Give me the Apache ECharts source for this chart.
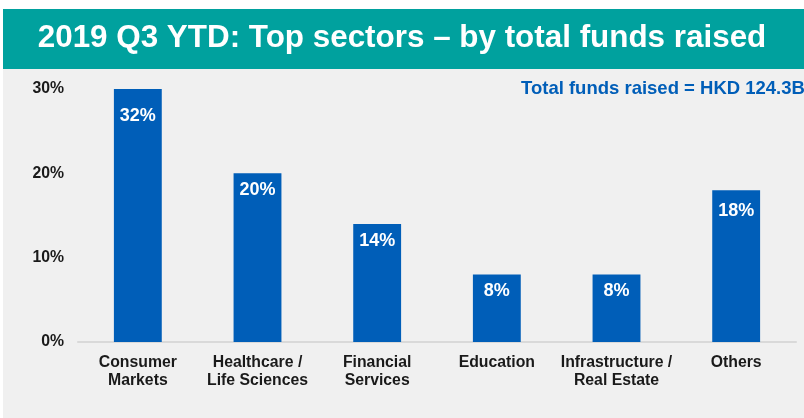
<!DOCTYPE html>
<html>
<head>
<meta charset="utf-8">
<title>2019 Q3 YTD: Top sectors – by total funds raised</title>
<script src="https://cdn.jsdelivr.net/npm/echarts@6/dist/echarts.min.js"></script>
<style>
  html, body { margin: 0; padding: 0; background: #ffffff; }
  #chart { width: 804px; height: 418px; }
</style>
</head>
<body>
<div id="chart"></div>
<script>
// Sector share of total funds raised, 2019 Q3 YTD (percent)
const sectors = [
  'Consumer\nMarkets',
  'Healthcare /\nLife Sciences',
  'Financial\nServices',
  'Education',
  'Infrastructure /\nReal Estate',
  'Others'
];
const shares = [32, 20, 14, 8, 8, 18];
const yTicks = [0, 10, 20, 30];
const titleText = '2019 Q3 YTD: Top sectors \u2013 by total funds raised';
const totalNote = 'Total funds raised = HKD 124.3B';

// gap between bar top and its value label, per bar
const labelGap = [18, 8, 8, 7, 7, 12];

const BLUE = '#005EB8';
const TEAL = '#00A19E';
const PANEL = '#F0F0F0';
const FONT = 'Liberation Sans, Arial, sans-serif';

const chart = echarts.init(document.getElementById('chart'), null, { renderer: 'canvas' });

chart.setOption({
  backgroundColor: '#ffffff',
  animation: false,
  graphic: [
    { type: 'rect', z: -10, silent: true, shape: { x: 3, y: 69, width: 801, height: 349 }, style: { fill: PANEL } },
    { type: 'rect', z: -10, silent: true, shape: { x: 3, y: 9, width: 801, height: 60 }, style: { fill: TEAL } },
    {
      type: 'text', z: 10, x: 521, y: 89,
      style: { text: totalNote, fill: BLUE, font: 'bold 18.5px ' + FONT, verticalAlign: 'middle', align: 'left' }
    }
  ],
  title: {
    text: titleText,
    left: 'center',
    top: 18,
    padding: 0,
    textStyle: { color: '#ffffff', fontFamily: FONT, fontWeight: 'bold', fontSize: 31.4, lineHeight: 40 }
  },
  grid: { left: 78, right: 8, top: 89, bottom: 76, containLabel: false },
  xAxis: {
    type: 'category',
    data: sectors,
    axisTick: { show: false },
    axisLine: { show: true, lineStyle: { color: '#D9D9D9', width: 2 } },
    axisLabel: { color: '#1a1a1a', fontFamily: FONT, fontWeight: 'bold', fontSize: 15.8, lineHeight: 18.5, margin: 11, interval: 0 }
  },
  yAxis: {
    type: 'value',
    min: yTicks[0],
    max: yTicks[yTicks.length - 1],
    interval: yTicks[1] - yTicks[0],
    splitLine: { show: false },
    axisLine: { show: false },
    axisTick: { show: false },
    axisLabel: { color: '#1a1a1a', fontFamily: FONT, fontWeight: 'bold', fontSize: 15.8, margin: 14, formatter: '{value}%' }
  },
  series: [{
    type: 'bar',
    barWidth: '40%',
    clip: true,
    itemStyle: { color: BLUE },
    data: shares.map((v, i) => ({
      value: v,
      label: { distance: labelGap[i] }
    })),
    label: {
      show: true,
      position: 'insideTop',
      color: '#ffffff',
      fontFamily: FONT,
      fontWeight: 'bold',
      fontSize: 18,
      formatter: '{c}%'
    }
  }]
});
</script>
</body>
</html>
